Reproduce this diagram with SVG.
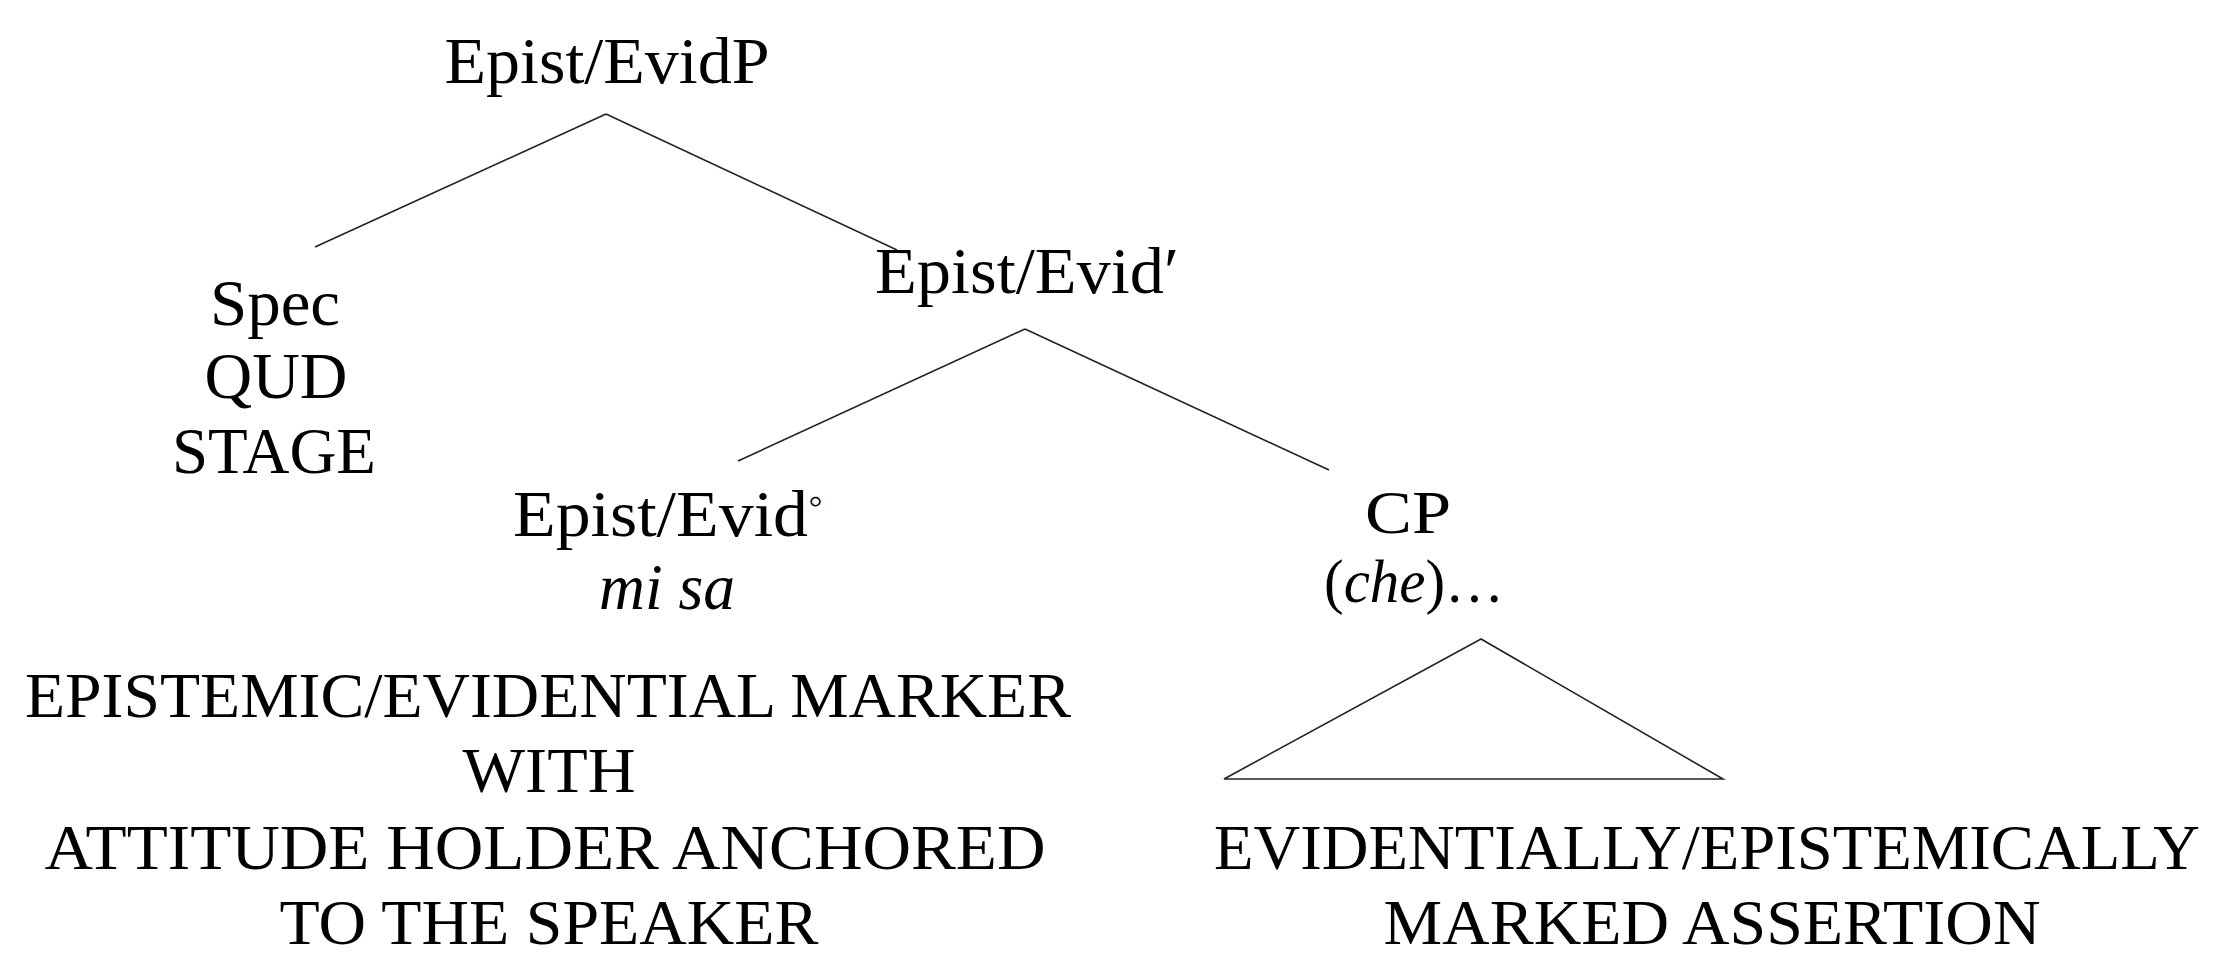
<svg xmlns="http://www.w3.org/2000/svg" width="2226" height="977" viewBox="0 0 2226 977">
<style>
text{font-family:"Liberation Serif","Times New Roman",serif;font-size:66px;fill:#000;text-anchor:middle}
.lo{font-size:63px}
.sm{font-size:62px}
.it{font-style:italic}
.edge{stroke:#222;stroke-width:1.6;fill:none}
</style>
<rect width="2226" height="977" fill="#fff"/>
<g id="connectors">
<line class="edge" x1="606" y1="114" x2="315" y2="247"/>
<line class="edge" x1="606" y1="114" x2="897" y2="250"/>
<line class="edge" x1="1025" y1="329" x2="738" y2="461"/>
<line class="edge" x1="1025" y1="329" x2="1329" y2="470"/>
<polygon class="edge" points="1481,639 1224,779 1723,779"/>
</g>
<g id="n-root"><text x="607" y="83" textLength="325" lengthAdjust="spacingAndGlyphs">Epist/EvidP</text></g>
<g id="n-spec">
<text x="275" y="325" textLength="130" lengthAdjust="spacingAndGlyphs">Spec</text>
<text x="276" y="398" textLength="143" lengthAdjust="spacingAndGlyphs">QUD</text>
<text x="274" y="473" textLength="204" lengthAdjust="spacingAndGlyphs">STAGE</text>
</g>
<g id="n-bar"><text x="1027" y="293" textLength="304" lengthAdjust="spacingAndGlyphs">Epist/Evid′</text></g>
<g id="n-head">
<text x="668" y="536" textLength="310" lengthAdjust="spacingAndGlyphs">Epist/Evid<tspan dy="-22" font-size="40">◦</tspan></text>
<text class="it" x="667" y="609" textLength="136" lengthAdjust="spacingAndGlyphs">mi sa</text>
<text class="lo" x="548" y="717" textLength="1046" lengthAdjust="spacingAndGlyphs">EPISTEMIC/EVIDENTIAL MARKER</text>
<text class="lo" x="549" y="792" textLength="173" lengthAdjust="spacingAndGlyphs">WITH</text>
<text class="lo" x="545" y="869" textLength="1001" lengthAdjust="spacingAndGlyphs">ATTITUDE HOLDER ANCHORED</text>
<text class="lo" x="549" y="944" textLength="539" lengthAdjust="spacingAndGlyphs">TO THE SPEAKER</text>
</g>
<g id="n-cp">
<text class="sm" x="1408" y="533" textLength="86" lengthAdjust="spacingAndGlyphs">CP</text>
<text class="sm" x="1414" y="602" textLength="180" lengthAdjust="spacingAndGlyphs">(<tspan class="it">che</tspan>)…</text>
<text class="lo" x="1707" y="869" textLength="986" lengthAdjust="spacingAndGlyphs">EVIDENTIALLY/EPISTEMICALLY</text>
<text class="lo" x="1712" y="944" textLength="657" lengthAdjust="spacingAndGlyphs">MARKED ASSERTION</text>
</g>
</svg>
